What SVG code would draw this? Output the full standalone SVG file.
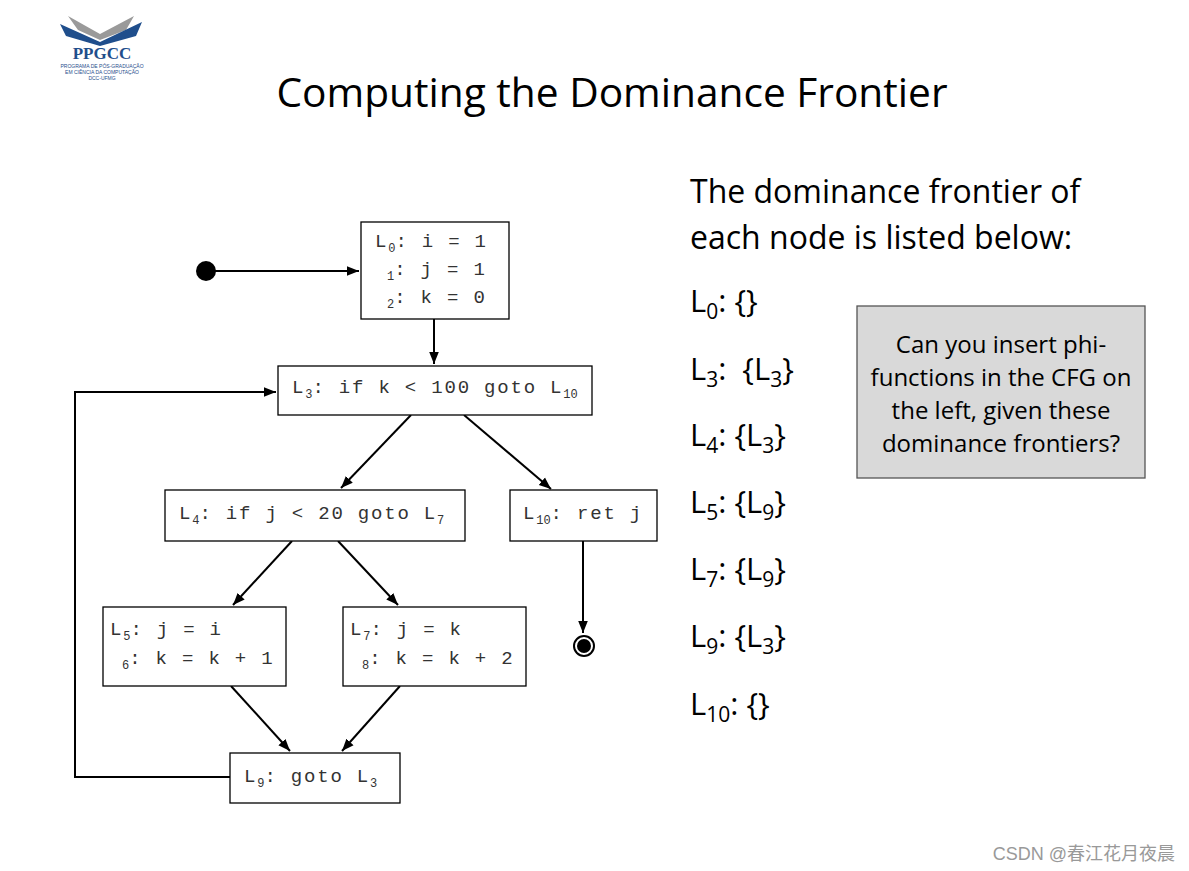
<svg xmlns="http://www.w3.org/2000/svg" width="1189" height="871" viewBox="0 0 1189 871">
<style>
.b{fill:#fff;stroke:#000;stroke-width:1.3}
.m{font-family:"Liberation Mono",monospace;font-size:19px;fill:#333;letter-spacing:1.8px}
.s{font-size:12px;letter-spacing:0}
.c{stroke:#000;stroke-width:2;fill:none}
.r{font-family:"Open Sans","Noto Sans",sans-serif;fill:#000}
</style>
<defs><marker id="a" viewBox="0 0 10 10" refX="10" refY="5" markerWidth="6" markerHeight="6" orient="auto"><path d="M0,1 L10,5 L0,9 z" fill="#000"/></marker></defs>
<rect width="1189" height="871" fill="#fff"/>
<g id="logo">
<path d="M68,16 L100,34 L134,16 L126,30 L100,40 L78,30 z" fill="#9a9a9a"/>
<path d="M60,24 L100,42 L142,22 L136,36 L100,46 L66,36 z" fill="#1f4e8c"/>
<text x="102" y="59" text-anchor="middle" font-family="Liberation Serif,serif" font-weight="bold" font-size="17" fill="#1f4e8c">PPGCC</text>
<text x="102" y="68" text-anchor="middle" font-family="Liberation Sans,sans-serif" font-size="5" fill="#1f4e8c">PROGRAMA DE PÓS-GRADUAÇÃO</text>
<text x="102" y="74" text-anchor="middle" font-family="Liberation Sans,sans-serif" font-size="5" fill="#1f4e8c">EM CIÊNCIA DA COMPUTAÇÃO</text>
<text x="102" y="80" text-anchor="middle" font-family="Liberation Sans,sans-serif" font-size="5" fill="#1f4e8c">DCC-UFMG</text>
</g>
<text class="r" x="612" y="107" text-anchor="middle" font-size="40" textLength="671" lengthAdjust="spacingAndGlyphs">Computing the Dominance Frontier</text>
<g id="connectors">
<circle cx="206" cy="271" r="10" fill="#000"/>
<path class="c" d="M206,271 H359" marker-end="url(#a)"/>
<path class="c" d="M434,319 V364" marker-end="url(#a)"/>
<path class="c" d="M411,415 L341,488" marker-end="url(#a)"/>
<path class="c" d="M464,415 L551,489" marker-end="url(#a)"/>
<path class="c" d="M292,541 L233,605" marker-end="url(#a)"/>
<path class="c" d="M338,541 L398,605" marker-end="url(#a)"/>
<path class="c" d="M231,686 L290,751" marker-end="url(#a)"/>
<path class="c" d="M400,686 L342,751" marker-end="url(#a)"/>
<path class="c" d="M583,541 V633" marker-end="url(#a)"/>
<path class="c" d="M230,777 H75 V392 H276" marker-end="url(#a)"/>
<circle cx="584" cy="646" r="10" fill="#fff" stroke="#000" stroke-width="2"/>
<circle cx="584" cy="646" r="7" fill="#000"/>
</g>
<g id="L0"><rect class="b" x="361" y="222" width="148" height="97"/>
<text class="m" x="375" y="247">L<tspan class="s" dy="5">0</tspan><tspan dy="-5">: i = 1</tspan></text>
<text class="m" x="387" y="275"><tspan class="s" dy="5">1</tspan><tspan dy="-5">: j = 1</tspan></text>
<text class="m" x="387" y="303"><tspan class="s" dy="5">2</tspan><tspan dy="-5">: k = 0</tspan></text></g>
<g id="L3"><rect class="b" x="278" y="366" width="314" height="49"/>
<text class="m" x="292" y="393">L<tspan class="s" dy="5">3</tspan><tspan dy="-5">: if k &lt; 100 goto L</tspan><tspan class="s" dy="5">10</tspan></text></g>
<g id="L4"><rect class="b" x="165" y="490" width="300" height="51"/>
<text class="m" x="179" y="519">L<tspan class="s" dy="5">4</tspan><tspan dy="-5">: if j &lt; 20 goto L</tspan><tspan class="s" dy="5">7</tspan></text></g>
<g id="L10"><rect class="b" x="510" y="490" width="147" height="51"/>
<text class="m" x="523" y="519">L<tspan class="s" dy="5">10</tspan><tspan dy="-5">: ret j</tspan></text></g>
<g id="L5"><rect class="b" x="103" y="607" width="183" height="79"/>
<text class="m" x="110" y="635">L<tspan class="s" dy="5">5</tspan><tspan dy="-5">: j = i</tspan></text>
<text class="m" x="122" y="664"><tspan class="s" dy="5">6</tspan><tspan dy="-5">: k = k + 1</tspan></text></g>
<g id="L7"><rect class="b" x="343" y="607" width="183" height="79"/>
<text class="m" x="350" y="635">L<tspan class="s" dy="5">7</tspan><tspan dy="-5">: j = k</tspan></text>
<text class="m" x="362" y="664"><tspan class="s" dy="5">8</tspan><tspan dy="-5">: k = k + 2</tspan></text></g>
<g id="L9"><rect class="b" x="230" y="753" width="170" height="50"/>
<text class="m" x="244" y="782">L<tspan class="s" dy="5">9</tspan><tspan dy="-5">: goto L</tspan><tspan class="s" dy="5">3</tspan></text></g>
<text class="r" x="690" y="203" font-size="32">The dominance frontier of</text>
<text class="r" x="690" y="249" font-size="32">each node is listed below:</text>
<g class="r" font-size="31">
<text x="690" y="312">L<tspan font-size="21" dy="7">0</tspan><tspan dy="-7">: {}</tspan></text>
<text x="690" y="380">L<tspan font-size="21" dy="7">3</tspan><tspan dy="-7">:</tspan><tspan dx="16">{L</tspan><tspan font-size="21" dy="7">3</tspan><tspan dy="-7">}</tspan></text>
<text x="690" y="446">L<tspan font-size="21" dy="7">4</tspan><tspan dy="-7">: {L</tspan><tspan font-size="21" dy="7">3</tspan><tspan dy="-7">}</tspan></text>
<text x="690" y="513">L<tspan font-size="21" dy="7">5</tspan><tspan dy="-7">: {L</tspan><tspan font-size="21" dy="7">9</tspan><tspan dy="-7">}</tspan></text>
<text x="690" y="580">L<tspan font-size="21" dy="7">7</tspan><tspan dy="-7">: {L</tspan><tspan font-size="21" dy="7">9</tspan><tspan dy="-7">}</tspan></text>
<text x="690" y="647">L<tspan font-size="21" dy="7">9</tspan><tspan dy="-7">: {L</tspan><tspan font-size="21" dy="7">3</tspan><tspan dy="-7">}</tspan></text>
<text x="690" y="715">L<tspan font-size="21" dy="7">10</tspan><tspan dy="-7">: {}</tspan></text>
</g>
<g id="note"><rect x="857" y="306" width="288" height="172" fill="#d9d9d9" stroke="#555" stroke-width="1.3"/>
<g class="r" font-size="24" text-anchor="middle">
<text x="1001" y="353">Can you insert phi-</text>
<text x="1001" y="386">functions in the CFG on</text>
<text x="1001" y="419">the left, given these</text>
<text x="1001" y="452">dominance frontiers?</text></g></g>
<text x="1175" y="860" text-anchor="end" font-family="Liberation Sans,'Noto Sans CJK SC',sans-serif" font-size="18" fill="#999">CSDN @春江花月夜晨</text>
</svg>
